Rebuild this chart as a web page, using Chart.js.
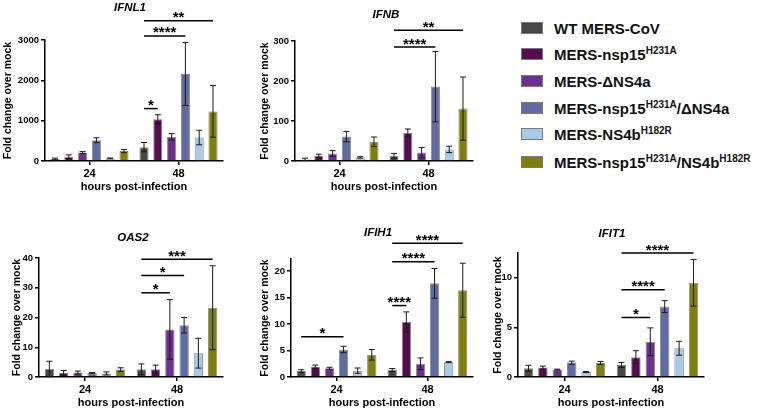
<!DOCTYPE html>
<html>
<head>
<meta charset="utf-8">
<script src="https://cdn.jsdelivr.net/npm/chart.js@4/dist/chart.umd.min.js"></script>
<style>
  body { margin: 0; background: #fff; }
  #wrap { position: relative; width: 759px; height: 413px; overflow: hidden; font-family: "Liberation Sans", Arial, sans-serif; }
  canvas { position: absolute; }
  .legend { position: absolute; left: 521px; top: 0; }
  .legend .row { position: absolute; left: 0; height: 20px; white-space: nowrap; display: flex; align-items: center; }
  .legend .sw { width: 20px; height: 10px; border: 1px solid #7a7a7a; margin-right: 11px; }
  .legend span.t { font-weight: bold; font-size: 15px; color: #111; }
  .legend sup { font-size: 10px; vertical-align: 6px; line-height: 0; }
</style>
</head>
<body>
<div id="wrap">
  <div class="legend" id="legend"></div>
</div>
<script>
const TIMEPOINTS = ["24", "48"];
const SERIES = [
  "WT MERS-CoV",
  "MERS-nsp15<sup>H231A</sup>",
  "MERS-\u0394NS4a",
  "MERS-nsp15<sup>H231A</sup>/\u0394NS4a",
  "MERS-NS4b<sup>H182R</sup>",
  "MERS-nsp15<sup>H231A</sup>/NS4b<sup>H182R</sup>"
];
const COLORS = ["#474747", "#560d4f", "#6e308e", "#5f6ba1", "#a9c9e6", "#7f800c"];

// mean / SD per series: [24 h, 48 h]
const IFNL1_MEAN = [[50, 344], [107, 1033], [213, 598], [516, 2156], [65, 582], [246, 1230]];
const IFNL1_SD = [[22, 115], [45, 115], [25, 80], [60, 780], [10, 180], [40, 640]];
const IFNL1_SIG = [[1, 0, 1, 1300, "*"], [1, 0, 3, 3100, "****"], [1, 0, 5, 3480, "**"]];

const IFNB_MEAN = [[4, 13], [13, 70], [19, 21], [61, 186], [9, 29], [48, 131]];
const IFNB_SD = [[3, 6], [4, 10], [7, 13], [13, 88], [2, 8], [12, 79]];
const IFNB_SIG = [[1, 0, 3, 285, "****"], [1, 0, 5, 327, "**"]];

const OAS2_MEAN = [[2.7, 2.6], [1.4, 2.6], [1.5, 16.0], [1.4, 17.4], [1.2, 8.0], [2.5, 23.3]];
const OAS2_SD = [[2.6, 1.8], [0.8, 1.4], [0.5, 10.0], [0.1, 2.6], [0.5, 5.0], [0.6, 14.1]];
const OAS2_SIG = [[1, 0, 2, 28.3, "*"], [1, 0, 3, 34.1, "*"], [1, 0, 5, 39.6, "***"]];

const IFIH1_MEAN = [[1.13, 1.3], [1.95, 10.4], [1.64, 2.5], [5.2, 17.7], [1.2, 2.8], [4.2, 16.4]];
const IFIH1_SD = [[0.25, 0.3], [0.3, 1.9], [0.2, 1.1], [0.6, 2.8], [0.5, 0.1], [1.0, 5.1]];
const IFIH1_SIG = [[0, 0, 3, 7.6, "*"], [1, 0, 1, 13.5, "****"], [1, 0, 3, 21.8, "****"], [1, 0, 5, 25.3, "****"]];

const IFIT1_MEAN = [[0.88, 1.22], [0.95, 2.0], [0.74, 3.55], [1.45, 7.1], [0.5, 2.9], [1.42, 9.5]];
const IFIT1_SD = [[0.3, 0.25], [0.15, 0.65], [0.05, 1.4], [0.15, 0.6], [0.05, 0.7], [0.15, 2.35]];
const IFIT1_SIG = [[1, 0, 2, 6.0, "*"], [1, 0, 3, 8.8, "****"], [1, 0, 5, 12.5, "****"]];

const FONT = "'Liberation Sans', Arial, sans-serif";

const panels = [
  { gene: "IFNL1", mean: IFNL1_MEAN, sd: IFNL1_SD, sig: IFNL1_SIG, yMax: 3000, step: 1000,
    left: 0, top: 0, w: 230, h: 200, padTop: 40, padRight: 7, axisW: 45, yTitlePad: 1.5, xAxisH: 39, xTitlePad: 6, titleX: 130, titleY: 8 },
  { gene: "IFNB", mean: IFNB_MEAN, sd: IFNB_SD, sig: IFNB_SIG, yMax: 300, step: 100,
    left: 250, top: 0, w: 230, h: 200, padTop: 41, padRight: 7, axisW: 45, yTitlePad: 8.5, xAxisH: 39, xTitlePad: 6, titleX: 136, titleY: 15 },
  { gene: "OAS2", mean: OAS2_MEAN, sd: OAS2_SD, sig: OAS2_SIG, yMax: 40, step: 10,
    left: 0, top: 200, w: 230, h: 213, padTop: 58, padRight: 7, axisW: 39, yTitlePad: 10.5, xAxisH: 36, xTitlePad: 3, titleX: 133, titleY: 38 },
  { gene: "IFIH1", mean: IFIH1_MEAN, sd: IFIH1_SD, sig: IFIH1_SIG, yMax: 22.3, step: 5,
    left: 250, top: 200, w: 230, h: 213, padTop: 59, padRight: 7, axisW: 41, yTitlePad: 8.5, xAxisH: 36, xTitlePad: 3, titleX: 128, titleY: 33 },
  { gene: "IFIT1", mean: IFIT1_MEAN, sd: IFIT1_SD, sig: IFIT1_SIG, yMax: 12.5, step: 5,
    left: 480, top: 200, w: 232, h: 213, padTop: 53, padRight: 8, axisW: 38, yTitlePad: 11.5, xAxisH: 36, xTitlePad: 3, titleX: 132, titleY: 34 }
];

// error bars, significance brackets and italic gene titles
const annotate = {
  id: "annotate",
  afterDatasetsDraw(chart, args, opts) {
    const ctx = chart.ctx;
    const y = chart.scales.y;
    ctx.save();
    ctx.strokeStyle = "#1a1a1a";
    ctx.lineWidth = 1;
    opts.mean.forEach((vals, i) => {
      const meta = chart.getDatasetMeta(i);
      vals.forEach((v, j) => {
        const x = meta.data[j].x;
        const top = y.getPixelForValue(v + opts.sd[i][j]);
        const bot = y.getPixelForValue(Math.max(v - opts.sd[i][j], 0));
        ctx.beginPath();
        ctx.moveTo(x, top); ctx.lineTo(x, bot);
        ctx.moveTo(x - 3, top); ctx.lineTo(x + 3, top);
        ctx.moveTo(x - 3, bot); ctx.lineTo(x + 3, bot);
        ctx.stroke();
      });
    });
    ctx.restore();
  },
  afterDraw(chart, args, opts) {
    const ctx = chart.ctx;
    const y = chart.scales.y;
    ctx.save();
    ctx.strokeStyle = "#000";
    ctx.fillStyle = "#000";
    ctx.lineWidth = 1.5;
    ctx.textAlign = "center";
    ctx.textBaseline = "alphabetic";
    ctx.font = "bold 15px " + FONT;
    opts.sig.forEach(([cat, a, b, v, label]) => {
      const x1 = chart.getDatasetMeta(a).data[cat].x;
      const x2 = chart.getDatasetMeta(b).data[cat].x;
      const py = y.getPixelForValue(v);
      ctx.beginPath();
      ctx.moveTo(x1, py); ctx.lineTo(x2, py);
      ctx.stroke();
      ctx.fillText(label, (x1 + x2) / 2, py + 1.5);
    });
    ctx.font = "italic bold 11.5px " + FONT;
    ctx.textBaseline = "middle";
    ctx.fillText(opts.gene, opts.titleX, opts.titleY);
    ctx.restore();
  }
};

const wrap = document.getElementById("wrap");

panels.forEach(p => {
  const canvas = document.createElement("canvas");
  canvas.width = p.w;
  canvas.height = p.h;
  canvas.style.left = p.left + "px";
  canvas.style.top = p.top + "px";
  canvas.style.width = p.w + "px";
  canvas.style.height = p.h + "px";
  wrap.appendChild(canvas);

  new Chart(canvas, {
    type: "bar",
    data: {
      labels: TIMEPOINTS,
      datasets: p.mean.map((vals, i) => ({
        label: SERIES[i],
        data: vals,
        backgroundColor: COLORS[i],
        borderColor: "#8c8c8c",
        borderWidth: 1,
        barPercentage: 0.66,
        categoryPercentage: 0.93
      }))
    },
    options: {
      responsive: false,
      animation: false,
      layout: { padding: { top: p.padTop, right: p.padRight, left: 0, bottom: 0 } },
      plugins: {
        legend: { display: false },
        tooltip: { enabled: false },
        annotate: { mean: p.mean, sd: p.sd, sig: p.sig, gene: p.gene, titleX: p.titleX, titleY: p.titleY }
      },
      scales: {
        x: {
          offset: true,
          grid: { display: true, drawOnChartArea: false, offset: false, tickLength: 4, color: "#000", lineWidth: 1.5 },
          border: { color: "#000", width: 1.5 },
          ticks: { color: "#000", padding: 2, font: { family: FONT, size: 11, weight: "bold" } },
          title: { display: true, text: "hours post-infection", color: "#000",
            padding: { top: 0, bottom: p.xTitlePad }, font: { family: FONT, size: 11, weight: "bold" } },
          afterFit: s => { s.height = p.xAxisH; }
        },
        y: {
          min: 0,
          max: p.yMax,
          grid: { display: true, drawOnChartArea: false, tickLength: 4, color: "#000", lineWidth: 1.5 },
          border: { color: "#000", width: 1.5 },
          ticks: { stepSize: p.step, includeBounds: false, color: "#000", padding: 2,
            font: { family: FONT, size: 9.5, weight: "bold" }, callback: v => String(v) },
          title: { display: true, text: "Fold change over mock", color: "#000",
            padding: { top: p.yTitlePad, bottom: 0 }, font: { family: FONT, size: 10.5, weight: "bold" } },
          afterFit: s => { s.width = p.axisW; }
        }
      }
    },
    plugins: [annotate]
  });
});

// legend
const legend = document.getElementById("legend");
const rowCenters = [28, 54, 81, 108, 134, 162];
SERIES.forEach((name, i) => {
  const row = document.createElement("div");
  row.className = "row";
  row.style.top = (rowCenters[i] - 10) + "px";
  row.innerHTML = `<div class="sw" style="background:${COLORS[i]}"></div><span class="t">${name}</span>`;
  legend.appendChild(row);
});
</script>
</body>
</html>
